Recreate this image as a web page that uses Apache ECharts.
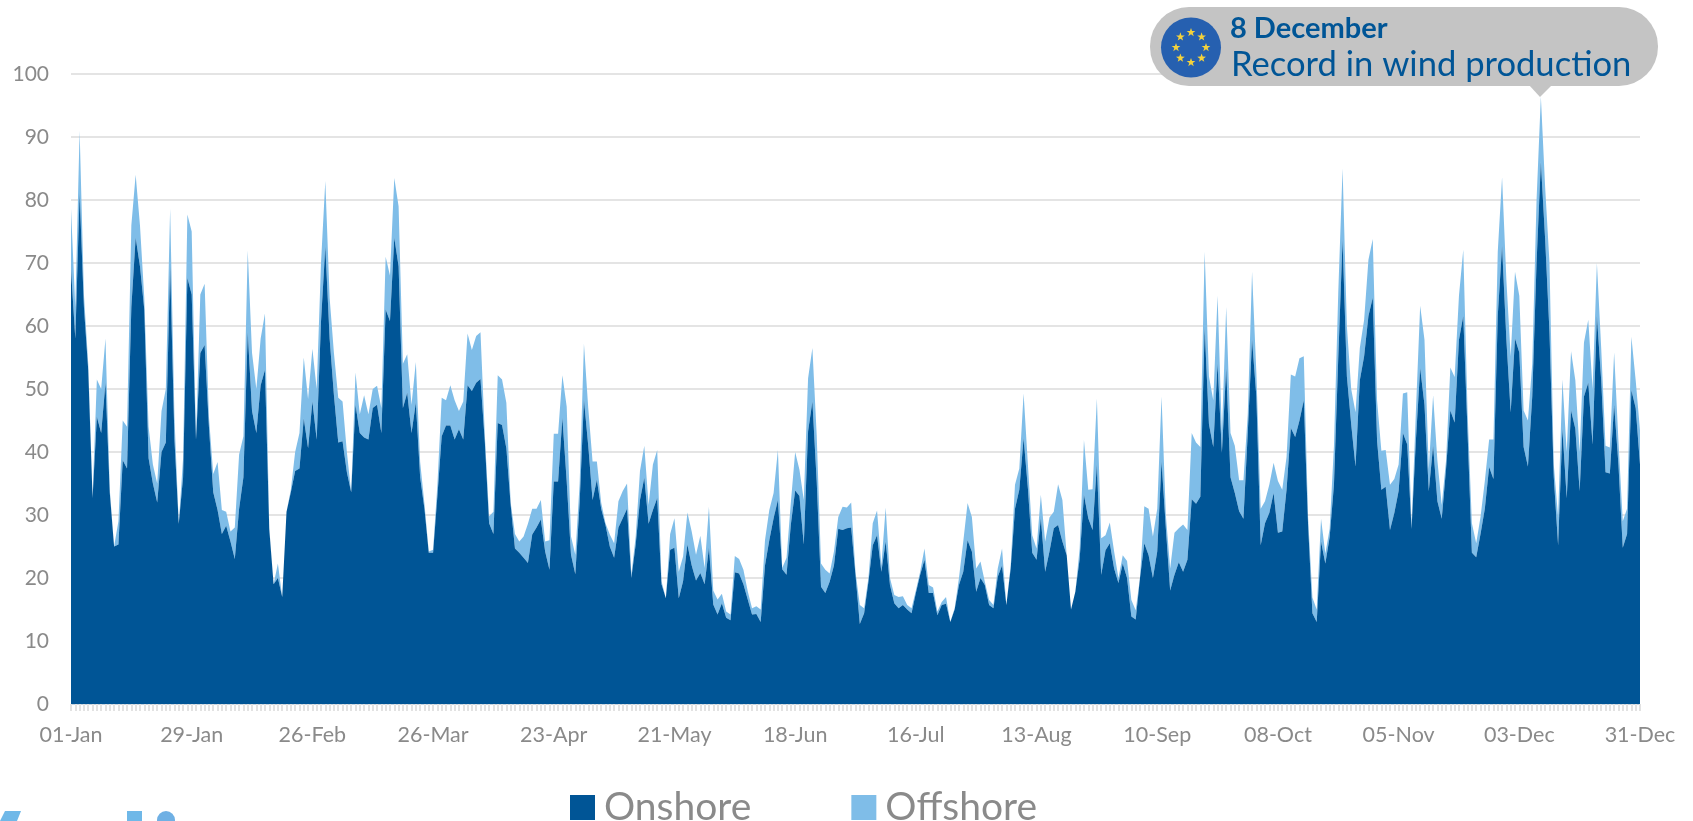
<!DOCTYPE html>
<html>
<head>
<meta charset="utf-8">
<title>Wind production</title>
<style>
  html, body { margin: 0; padding: 0; background: #fff; }
  #chart { width: 1693px; height: 821px; }
</style>
<script src="https://cdn.jsdelivr.net/npm/echarts@6/dist/echarts.min.js"></script>
</head>
<body>
<div id="chart"></div>
<script>
// daily values in GW, 01-Jan to 31-Dec
const onshore = [
  69,58,81,63,53,32.7,45.6,43,51,33.5,
  25,25.3,38.7,37.4,63,74,69.5,62.6,39,35,
  32,40,41.5,69.5,42,28.6,36,67.6,65,42,
  55.7,57,44,33.6,30.8,27,28.3,25.8,23,31,
  36,59,46.5,43,50.6,53,27.7,19,20,17,
  30.5,33.6,37,37.4,45.3,40.6,48,42,60.7,72.6,
  58,49,41.5,41.7,36.8,33.6,47.5,43,42.3,42,
  47,47.5,43,62.6,60.8,74,69.5,47,49.4,43,
  47.8,36,31,24,24,33,42.5,44.2,44.2,42,
  43.6,42,50.6,49.7,51,51.6,41.7,28.7,27,44.6,
  44.3,40.6,31.6,24.7,24,23.2,22.4,26.9,28,29.3,
  24.2,21.3,35.3,35.3,45.4,35.3,23.7,20.6,32,48.3,
  41,32.4,35.6,31,28.4,25,23.2,28,29.5,31,
  20,25.3,32.4,35.9,28.6,30.8,32.7,19,16.8,24.5,
  24.8,16.8,19.5,25.3,22,19.6,20.8,19,24.8,15.8,
  14.2,16,13.7,13.3,20.9,20.7,19,16.6,14.2,14.3,
  13,22,26,29.5,32.4,21.4,20.5,28.5,33.9,33,
  25.3,43.3,48,35.3,18.6,17.6,19.4,22,27.8,27.6,
  27.9,28,20.5,12.7,14.4,19.4,25.2,26.8,21,25.8,
  18.9,16,15.2,15.7,15,14.4,17.6,20.5,22.9,17.6,
  17.6,14.1,15.7,15.9,13,15,18.9,21,26,24.2,
  17.8,20,18.9,15.7,15.2,20.2,22,15.7,21.5,31,
  34,42.2,34.2,24,22.9,29.5,21,24.2,27.9,28.4,
  25.8,23.6,15,17.8,23,33.2,29.5,27.6,38,20.5,
  24.4,25.5,21.5,19.2,22.3,20,13.9,13.4,20,25.5,
  23.6,20,24.2,38.5,27.9,18,20.5,22.5,21,22.9,
  32.5,31.8,32.9,59.7,44.4,40.8,54,39.9,53.3,36,
  33.5,30.6,29.4,43,57.8,48.8,25.2,28.7,30.3,33.5,
  27.2,27.4,34,43.8,42.4,45,48.2,28.4,14.4,13,
  25.8,22.3,26.5,34.8,55,73.7,52,44.4,37.7,51.4,
  55.2,61.6,64.5,41.8,34,34.5,27.6,30.3,33.8,43,
  41.2,27.8,41.8,53.3,47.5,33.8,41,32.2,29.4,37.3,
  46.6,44.7,57.8,61.6,43,24,23.3,27,31,37.6,
  35.7,61.6,72.7,57.8,46.3,58,55.8,40.8,37.7,48.8,
  70,86,73.7,59,36,25.2,43.7,32.7,46.6,43.7,
  33.8,48.8,51,41.2,61.6,51.4,36.8,36.6,47.5,38,
  24.8,27,49.8,47,38
]

const offshore = [
  9.6,5,10,2,1,0.3,5.9,7,7,0.5,
  0,3.7,6.3,6.6,13,10,6.5,1.9,5,3,
  3,6.5,8.5,9.1,3.6,0,3,10.1,10,0,
  9.3,9.7,1.6,2.9,7.6,3.8,2.2,1.6,5,8.6,
  6.5,13,9.2,7,7.4,9,0.3,0,2.3,0,
  0,0.4,3,5.6,9.7,7.8,8.4,8,9.3,10.4,
  6.5,6.7,7.1,6.3,3.2,0,5.1,3,6.7,4,
  3,3,4,8.4,7.2,9.5,9.5,7,6.1,4.5,
  6.5,2.4,0.8,0.2,0.5,1.8,6.1,4,6.4,6.2,
  2.9,6,8.2,6.5,7.4,7.4,1.1,1.1,3.5,7.6,
  7.2,7.2,0.4,2.3,1.8,3.4,6.2,4.1,3,3.1,
  1.6,4.7,7.6,7.6,6.8,11.9,2.9,3.1,3,8.9,
  6,6.1,2.9,1,0.3,1.9,2.3,4.2,4.3,4,
  0.5,1.3,4.6,5.1,3,7.2,7.6,0.5,0,2.5,
  4.7,4.2,3.9,5.1,5.4,4.1,5.9,2.6,6.5,2.2,
  2.4,1.5,1,0.9,2.6,2.3,2.3,1.3,1,1.2,
  2,4,4.8,4,7.9,0.2,2.7,3.5,6.1,4.2,
  7.1,8.4,8.5,7.4,3.7,3.7,1.3,2.2,1.9,3.7,
  3.3,4,0.5,3,0.8,0.6,3.5,3.9,1,5.4,
  1.1,1.3,1.8,1.4,0.7,0.8,0.4,0.5,1.8,1.3,
  0.9,0.6,0.5,1.1,0,0.2,1.1,4.8,5.9,5.5,
  3.7,2.6,0.5,0.8,0.5,1.3,2.7,0,0.5,3.8,
  3.4,7.1,3.8,2.8,1.8,3.7,4.8,5.4,2.6,6.5,
  6.6,0,0,0,1.7,8.7,4.5,6.5,10.5,5.8,
  2.4,3.3,2.7,0.8,1.3,2.7,2.6,1.5,0,5.9,
  7.4,6.6,6.8,10.3,2.1,3.5,6.7,5.4,7.5,4.7,
  10.5,9.7,7.9,12.1,7.6,7.4,10.8,3.1,9.7,7,
  7.5,4.9,6.1,3,10.8,3.8,5.8,3.5,4.5,4.8,
  8.2,6.6,5.2,8.5,9.6,9.9,7,1.3,2.5,2,
  3.6,1.6,1.3,6.2,10.4,11.3,8,5.6,8.6,5.1,
  5.8,8.9,9.3,6.4,6.2,5.8,7.2,5.4,4.2,6.3,
  8.3,0.6,4.5,9.9,10.3,3.5,8,6.4,2.2,1.3,
  6.8,7.2,7,10.5,3.3,4.7,2.2,2.7,4.4,4.4,
  6.3,10.2,10.9,9.5,8.9,10.6,9,5.8,7.3,5.2,
  10,10.4,8.3,11,2,4.5,7.8,7.3,9.4,7.7,
  6.2,8.6,10,8.8,8.4,5.1,4.2,4.1,8.3,3.8,
  4.2,4,8.5,4.4,5.4
]

const monthNames = ['Jan','Feb','Mar','Apr','May','Jun','Jul','Aug','Sep','Oct','Nov','Dec']
const monthDays = [31,28,31,30,31,30,31,31,30,31,30,31]

// 01-Jan, 02-Jan ...
const days = []
monthDays.forEach((count, m) => {
  for (let d = 1; d <= count; d++) {
    days.push(String(d).padStart(2, '0') + '-' + monthNames[m])
  }
})

const FONT = 'Lato, "Open Sans", sans-serif'
const GREY = '#8a8a8a'
const DARK_BLUE = '#005596'
const LIGHT_BLUE = '#7fbde8'

// the eu flag stars in the callout
function starPoints(cx, cy, r) {
  const pts = []
  for (let i = 0; i < 10; i++) {
    const a = -Math.PI / 2 + i * Math.PI / 5
    const rr = i % 2 ? r * 0.4 : r
    pts.push([cx + rr * Math.cos(a), cy + rr * Math.sin(a)])
  }
  return pts
}

function flagStars(cx, cy, radius, count) {
  const stars = []
  for (let i = 0; i < count; i++) {
    const a = i * 2 * Math.PI / count - Math.PI / 2
    stars.push({
      type: 'polygon',
      shape: { points: starPoints(cx + radius * Math.cos(a), cy + radius * Math.sin(a), 4.6) },
      style: { fill: '#f4d23c' },
      z: 12
    })
  }
  return stars
}

const chart = echarts.init(document.getElementById('chart'), null, { renderer: 'canvas' })

chart.setOption({
  animation: false,
  backgroundColor: '#fff',
  grid: { left: 71, right: 53, top: 74, bottom: 117, containLabel: false },
  legend: {
    left: 565,
    top: 783,
    itemWidth: 25,
    itemHeight: 25,
    itemGap: 100,
    icon: 'rect',
    textStyle: { color: GREY, fontFamily: FONT, fontSize: 39, padding: [0, 0, 0, 4] },
    data: ['Onshore', 'Offshore']
  },
  xAxis: {
    type: 'category',
    boundaryGap: false,
    data: days,
    axisLine: { lineStyle: { color: '#c3d3e0', width: 1 } },
    axisTick: { show: true, interval: 0, length: 7, lineStyle: { color: '#e2e2e2', width: 2 } },
    axisLabel: {
      interval: 27,
      color: GREY,
      fontFamily: FONT,
      fontSize: 21.5,
      margin: 20,
      hideOverlap: false
    },
    splitLine: { show: false }
  },
  yAxis: {
    type: 'value',
    min: 0,
    max: 100,
    interval: 10,
    axisLine: { show: false },
    axisTick: { show: false },
    axisLabel: { color: GREY, fontFamily: FONT, fontSize: 21, margin: 22 },
    splitLine: { lineStyle: { color: '#e4e4e4', width: 2 } }
  },
  series: [
    {
      name: 'Onshore',
      type: 'line',
      stack: 'wind',
      data: onshore,
      showSymbol: false,
      symbol: 'none',
      lineStyle: { width: 0 },
      itemStyle: { color: DARK_BLUE },
      areaStyle: { color: DARK_BLUE, opacity: 1 },
      z: 3
    },
    {
      name: 'Offshore',
      type: 'line',
      stack: 'wind',
      data: offshore,
      showSymbol: false,
      symbol: 'none',
      lineStyle: { width: 0 },
      itemStyle: { color: LIGHT_BLUE },
      areaStyle: { color: LIGHT_BLUE, opacity: 1 },
      z: 2
    }
  ],
  graphic: [
    // callout
    { type: 'rect', shape: { x: 1150, y: 7, width: 508, height: 79, r: 39 }, style: { fill: '#c4c4c4' }, z: 10 },
    { type: 'polygon', shape: { points: [[1529, 85], [1552, 85], [1540, 97]] }, style: { fill: '#c4c4c4' }, z: 10 },
    { type: 'circle', shape: { cx: 1191, cy: 47.5, r: 30 }, style: { fill: '#2660b0' }, z: 11 },
    ...flagStars(1191, 47.5, 15, 8),
    {
      type: 'text', left: 1230, top: 14, z: 12,
      style: { text: '8 December', fill: DARK_BLUE, fontFamily: FONT, fontWeight: 'bold', fontSize: 29 }
    },
    {
      type: 'text', left: 1231, top: 47, z: 12,
      style: { text: 'Record in wind production', fill: DARK_BLUE, fontFamily: FONT, fontSize: 34.6 }
    },
    // cut off logo at the bottom edge
    { type: 'polygon', shape: { points: [[5, 811], [21, 811], [17, 821], [0, 821]] }, style: { fill: '#6fb8e8' } },
    { type: 'rect', shape: { x: 127, y: 811, width: 15, height: 10 }, style: { fill: '#6fb8e8' } },
    { type: 'circle', shape: { cx: 166, cy: 820, r: 9 }, style: { fill: '#6fb0e4' } }
  ]
})
</script>
</body>
</html>
